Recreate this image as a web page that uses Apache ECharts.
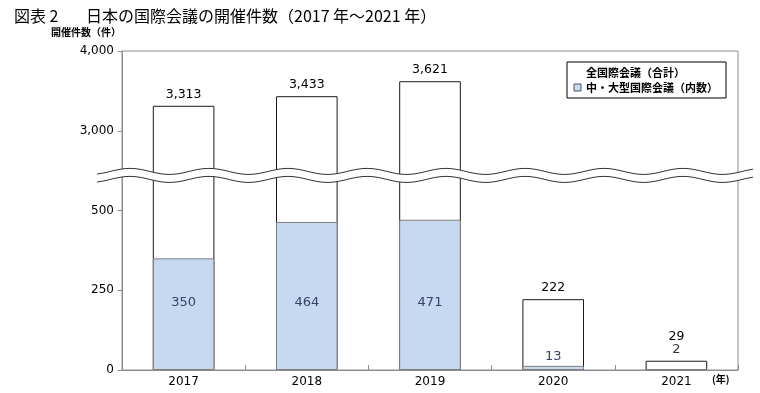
<!DOCTYPE html>
<html><head><meta charset="utf-8">
<script src="https://cdn.jsdelivr.net/npm/echarts@6/dist/echarts.min.js"></script>
<style>html,body{margin:0;padding:0;background:#fff}#c{width:760px;height:393px}</style>
</head><body><div id="c"></div>
<script>
var years = ['2017', '2018', '2019', '2020', '2021'];
var totalMeetings = [3313, 3433, 3621, 222, 29];
var midLargeMeetings = [350, 464, 471, 13, 2];
var tickValues = [0, 250, 500, 3000, 4000];
var tickLabels = ['0', '250', '500', '3,000', '4,000'];
var seriesNames = ['全国際会議（合計）', '中・大型国際会議（内数）'];

// broken axis: each tick step is one unit on the virtual scale
function toVirtual(v) {
  for (var i = 1; i < tickValues.length; i++) {
    if (v <= tickValues[i] || i === tickValues.length - 1) {
      return (i - 1) + (v - tickValues[i - 1]) / (tickValues[i] - tickValues[i - 1]);
    }
  }
}
function fmt(v) { return v.toLocaleString('en-US'); }

var labelFont = 'DejaVu Sans, Verdana, sans-serif';
var innerData = midLargeMeetings.map(function (v) {
  var small = v < 100;
  return {
    value: toVirtual(v), raw: v,
    label: small ? { position: 'top', distance: v < 5 ? 13 : 3, color: v < 5 ? '#333' : '#2f4468' } : { position: 'insideBottom', distance: 61 }
  };
});
var totalData = totalMeetings.map(function (v, i) {
  return { value: toVirtual(v), raw: v, label: { distance: midLargeMeetings[i] < 5 ? 17 : 5 } };
});

var chart = echarts.init(document.getElementById('c'), null, { renderer: 'canvas' });
var option = {
  animation: false,
  textStyle: { fontFamily: labelFont },
  grid: { left: 122, right: 22, top: 51, bottom: 23, show: true, borderColor: '#8c8c8c', borderWidth: 1, backgroundColor: 'transparent' },
  legend: {
    orient: 'vertical', left: 567, top: 62, padding: [5, 8, 5, 6], itemGap: 4,
    borderColor: '#000', borderWidth: 1, itemWidth: 7, itemHeight: 7, icon: 'rect',
    textStyle: { fontFamily: 'Noto Sans CJK JP', fontSize: 11, fontWeight: 'bold', color: '#000' },
    data: [
      { name: seriesNames[0], itemStyle: { color: 'transparent', borderColor: 'transparent' } },
      { name: seriesNames[1], itemStyle: { color: '#c6d9f0', borderColor: '#44546a', borderWidth: 1 } }
    ]
  },
  xAxis: {
    type: 'category', data: years,
    axisLine: { lineStyle: { color: '#8c8c8c' } },
    axisTick: { show: true, inside: true, length: 5, lineStyle: { color: '#8c8c8c' } },
    axisLabel: { color: '#000', fontSize: 12, margin: 6, fontFamily: labelFont }
  },
  yAxis: {
    type: 'value', min: 0, max: tickValues.length - 1, interval: 1,
    axisLine: { show: true, lineStyle: { color: '#8c8c8c' } },
    axisTick: { show: true, length: 4, lineStyle: { color: '#8c8c8c' } },
    splitLine: { show: false },
    axisLabel: {
      color: '#000', fontSize: 12, margin: 8, fontFamily: labelFont,
      formatter: function (v) { return tickLabels[Math.round(v)]; }
    }
  },
  series: [
    {
      name: seriesNames[0], type: 'bar', barWidth: '50%', barGap: '-100%', z: 2,
      data: totalData,
      itemStyle: { color: '#fff', borderColor: '#1a1a1a', borderWidth: 1 },
      label: { show: true, position: 'top', color: '#000', fontSize: 12.5, fontFamily: labelFont,
        formatter: function (p) { return fmt(p.data.raw); } }
    },
    {
      name: seriesNames[1], type: 'bar', barWidth: '50%', barGap: '-100%', z: 3,
      data: innerData,
      itemStyle: { color: '#c6d9f0', borderColor: '#7f7f7f', borderWidth: 1 },
      label: { show: true, color: '#2f4468', fontSize: 13, fontFamily: labelFont,
        formatter: function (p) { return fmt(p.data.raw); } }
    }
  ]
};
chart.setOption(option);

// wavy break band between 500 and 3,000
var yc = chart.convertToPixel({ yAxisIndex: 0 }, 2.44);
var x0 = 97, x1 = 753, period = 79, amp = 3, half = 4;
function wave(off, rev) {
  var pts = [];
  for (var x = x0; x <= x1; x += 2) pts.push([x, yc + off - amp * Math.cos(2 * Math.PI * (x - 130) / period)]);
  return rev ? pts.reverse() : pts;
}
var up = wave(-half), lo = wave(half);
chart.setOption({
  graphic: [
    { type: 'polygon', shape: { points: up.concat(wave(half, true)) }, style: { fill: '#fff' }, z: 100 },
    { type: 'polyline', shape: { points: up }, style: { stroke: '#333', lineWidth: 1, fill: null }, z: 101 },
    { type: 'polyline', shape: { points: lo }, style: { stroke: '#333', lineWidth: 1, fill: null }, z: 101 },
    { type: 'text', left: 14, top: 8, style: { text: '図表 2', fontSize: 16, fontFamily: 'Noto Sans CJK JP', fill: '#000' } },
    { type: 'text', left: 86, top: 8, style: { text: '日本の国際会議の開催件数（2017 年～2021 年）', fontSize: 16, fontFamily: 'Noto Sans CJK JP', fill: '#000' } },
    { type: 'text', left: 51, top: 27, style: { text: '開催件数（件）', fontSize: 10, fontWeight: 'bold', fontFamily: 'Noto Sans CJK JP', fill: '#000' } },
    { type: 'text', left: 712, top: 374, style: { text: '(年)', fontSize: 10, fontWeight: 'bold', fontFamily: 'Noto Sans CJK JP', fill: '#000' } }
  ]
});
</script></body></html>
